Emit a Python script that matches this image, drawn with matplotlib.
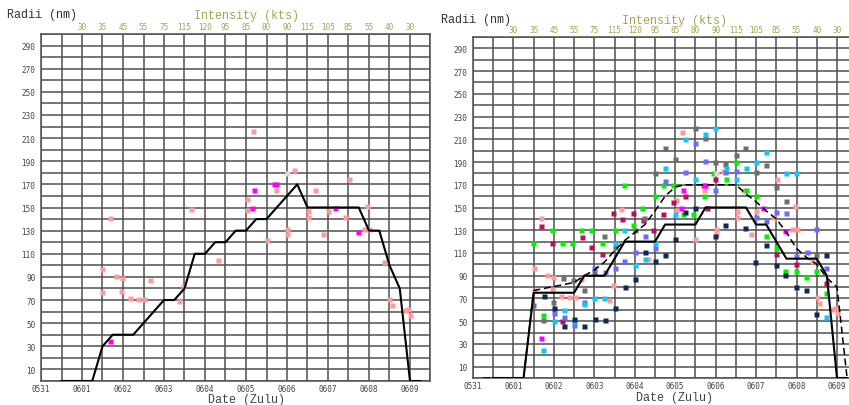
import numpy as np
import matplotlib
matplotlib.use("Agg")
from matplotlib import pyplot as plt

# days after 0531 00Z
date_days = [0, 1, 2, 3, 4, 5, 6, 7, 8, 9]
date_labels = ["0531", "0601", "0602", "0603", "0604", "0605", "0606", "0607", "0608", "0609"]
kts_days = [1.0, 1.5, 2.0, 2.5, 3.0, 3.5, 4.0, 4.5, 5.0, 5.5, 6.0, 6.5, 7.0, 7.5, 8.0, 8.5, 9.0]
kts_labels = [30, 35, 45, 55, 75, 115, 120, 95, 85, 80, 90, 115, 105, 85, 55, 40, 30]
radii_ticks = [10, 30, 50, 70, 90, 110, 130, 150, 170, 190, 210, 230, 250, 270, 290]

# left panel best-track line
left_day = [0.5, 1.25, 1.5, 1.75, 2.25, 2.5, 2.75, 3.0, 3.25, 3.5, 3.75, 4.0, 4.25, 4.5, 4.75,
            5.0, 5.25, 5.5, 5.75, 6.0, 6.25, 6.5, 6.75, 7.0, 7.25, 7.5, 7.75, 8.0, 8.25, 8.5,
            8.75, 9.0, 9.25]
left_val = [0, 0, 30, 40, 40, 50, 60, 70, 70, 80, 110, 110, 120, 120, 130,
            130, 140, 140, 150, 160, 170, 150, 150, 150, 150, 150, 150, 130, 130, 100,
            80, 0, 0]

# right panel lines
solid_day = [0.5, 1.25, 1.5, 2.5, 2.75, 3.25, 3.5, 3.75, 4.5, 4.75, 5.5, 5.75, 6.75, 7.0,
             7.25, 7.75, 8.5, 8.75, 9.0, 9.25]
solid_val = [0, 0, 75, 75, 90, 90, 105, 120, 120, 135, 135, 150, 150, 135,
             135, 105, 105, 90, 0, 0]
dash_day = [0.25, 1.25, 1.5, 2.5, 2.75, 3.0, 3.25, 3.5, 3.75, 4.0, 4.25, 4.5, 4.75, 5.0,
            5.25, 6.5, 6.75, 7.0, 7.25, 7.5, 7.75, 8.0, 8.25, 8.5, 8.75, 9.0, 9.25]
dash_val = [0, 0, 77, 84, 90, 95, 102, 112, 121, 128, 135, 147, 160, 168,
            170, 170, 162, 155, 147, 140, 128, 114, 106, 100, 88, 80, 0]

# obs shared by both panels
pink_day = [1.5, 1.5, 1.68, 1.83, 1.97, 1.95, 2.17, 2.37, 2.51, 2.67, 3.37, 3.46, 3.67, 4.32,
            5.02, 5.02, 5.18, 5.5, 5.72, 6.0, 6.0, 6.17, 6.52, 6.52, 6.68, 6.88, 7.01, 7.42,
            7.51, 7.88, 7.96, 8.0, 8.37, 8.5, 8.55, 8.88, 8.96, 9.0]
pink_val = [97, 77, 141, 91, 89, 78, 72, 71, 71, 87, 69, 82, 149, 105,
            157, 148, 216, 122, 165, 131, 127, 182, 147, 142, 165, 127, 147, 142,
            175, 131, 151, 131, 103, 71, 66, 61, 62, 57]
mag_day = [1.68, 5.14, 5.2, 5.68, 5.73, 7.18, 7.72]
mag_val = [35, 150, 165, 170, 170, 150, 129]
lpink_day = [6.0]
lpink_val = [180]

# right panel only
green_day = [1.49, 1.74, 1.96, 2.21, 2.46, 2.68, 2.93, 3.2, 3.5, 3.74, 3.96, 4.19, 4.5, 4.71,
             4.95, 5.2, 5.45, 5.7, 5.94, 6.25, 6.5, 6.75, 7.0, 7.25, 7.49, 7.72, 7.99, 8.24,
             8.49, 8.74]
green_val = [119, 55, 130, 119, 119, 130, 130, 119, 130, 170, 135, 150, 160, 170,
             170, 144, 144, 160, 180, 175, 190, 165, 160, 125, 114, 94, 94, 89,
             94, 75]
crim_day = [1.68, 1.96, 2.2, 2.7, 2.93, 3.18, 3.45, 3.69, 3.96, 4.2, 4.44, 4.71, 4.95, 5.24,
            5.78, 5.98, 7.49, 7.99, 8.74]
crim_val = [134, 119, 50, 124, 115, 109, 145, 140, 145, 139, 130, 144, 155, 160,
            150, 175, 109, 100, 84]
gray_day = [1.49, 1.74, 1.99, 2.23, 2.48, 2.75, 2.99, 3.25, 3.5, 4.0, 4.24, 4.5, 4.75, 5.0,
            5.49, 5.74, 5.98, 6.23, 6.5, 6.73, 7.0, 7.25, 7.49, 7.74, 8.49]
gray_val = [64, 51, 67, 88, 86, 77, 93, 125, 115, 130, 141, 180, 202, 193,
            220, 211, 190, 188, 196, 202, 181, 187, 168, 156, 108]
navy_day = [1.76, 2.01, 2.26, 2.5, 2.75, 3.02, 3.26, 3.51, 3.76, 4.0, 4.25, 4.5, 4.75, 5.0,
            5.24, 5.49, 5.98, 6.23, 6.73, 6.97, 7.25, 7.49, 7.72, 7.99, 8.23, 8.49, 8.74]
navy_val = [72, 62, 46, 52, 46, 52, 51, 62, 80, 87, 111, 103, 108, 122,
            146, 150, 125, 135, 132, 102, 117, 99, 91, 80, 77, 56, 108]
slate_day = [2.01, 2.26, 2.5, 2.75, 2.98, 3.26, 3.51, 3.73, 4.0, 4.25, 4.5, 4.75, 5.24, 5.49,
             5.74, 5.98, 6.23, 6.5, 7.0, 7.25, 7.49, 7.74, 7.99, 8.25, 8.48, 8.74]
slate_val = [57, 54, 47, 67, 97, 93, 97, 103, 111, 125, 114, 173, 181, 207,
             191, 165, 181, 182, 142, 138, 146, 145, 107, 111, 131, 97]
cyan_day = [1.74, 2.0, 2.25, 2.5, 2.75, 3.0, 3.25, 3.5, 3.74, 4.0, 4.25, 4.5, 4.75, 5.0,
            5.24, 5.49, 5.74, 5.98, 6.25, 6.5, 6.75, 7.0, 7.25, 7.74, 7.99, 8.73]
cyan_val = [25, 50, 60, 50, 65, 70, 70, 119, 130, 99, 105, 119, 185, 144,
            210, 175, 215, 220, 185, 175, 185, 190, 199, 180, 180, 54]

GRID = "#505050"
OLIVE = "#a3a352"
MS = 3.6


def setup(ax):
    ax.set_xlim(0, 9.5)
    ax.set_ylim(0, 300)
    ax.set_xticks(date_days, date_labels)
    ax.set_xticks(np.arange(0, 9.51, 0.5), minor=True)
    ax.set_yticks(radii_ticks)
    ax.set_yticks(np.arange(0, 301, 10), minor=True)
    ax.grid(which="both", color=GRID, lw=1.1)
    ax.set_axisbelow(True)
    ax.tick_params(which="both", length=0, labelsize=5.5, labelcolor="#444444", pad=4)
    ax.tick_params(axis="x", pad=2.5)
    for lab in ax.get_xticklabels() + ax.get_yticklabels():
        lab.set_family("DejaVu Sans Mono")
    for s in ax.spines.values():
        s.set_color(GRID)
        s.set_linewidth(1.1)
    top = ax.secondary_xaxis("top")
    top.set_xticks(kts_days, [str(k) for k in kts_labels])
    top.tick_params(length=0, labelsize=5.5, labelcolor=OLIVE, pad=2)
    for lab in top.get_xticklabels():
        lab.set_family("DejaVu Sans Mono")
    for s in top.spines.values():
        s.set_visible(False)


def dots(ax, d, v, c):
    ax.plot(d, v, "s", ms=MS, color=c, mec="none", zorder=3)


fig = plt.figure(figsize=(8.49, 4.06), dpi=100)

ax1 = fig.add_axes([41 / 849, 24 / 406, 389.5 / 849, 347 / 406])
setup(ax1)
dots(ax1, pink_day, pink_val, "#ff9a9a")
dots(ax1, mag_day, mag_val, "#ff00ff")
dots(ax1, lpink_day, lpink_val, "#ffc8e0")
ax1.plot(left_day, left_val, color="black", lw=1.5, zorder=4)

ax2 = fig.add_axes([473 / 849, 27 / 406, 384.2 / 849, 341 / 406])
setup(ax2)
dots(ax2, pink_day, pink_val, "#ff9a9a")
dots(ax2, green_day, green_val, "#00f000")
dots(ax2, crim_day, crim_val, "#b8105e")
dots(ax2, gray_day, gray_val, "#6e6e6e")
dots(ax2, slate_day, slate_val, "#6b6bff")
dots(ax2, cyan_day, cyan_val, "#10c8f5")
dots(ax2, navy_day, navy_val, "#0d2a55")
dots(ax2, mag_day, mag_val, "#ff00ff")
dots(ax2, lpink_day, lpink_val, "#ffc8e0")
ax2.plot(dash_day, dash_val, color="black", lw=1.1, ls=(0, (4.5, 2.5)), zorder=4)
ax2.plot(solid_day, solid_val, color="black", lw=1.5, zorder=4)

tfont = dict(family="Liberation Mono", fontsize=8.5)
fig.text(7 / 849, 1 - 15 / 406, "Radii (nm)", color="#333333", ha="left", va="center", **tfont)
fig.text(246 / 849, 1 - 16.5 / 406, "Intensity (kts)", color=OLIVE, ha="center", va="center", **tfont)
fig.text(246 / 849, 1 - 400.5 / 406, "Date (Zulu)", color="#444444", ha="center", va="center", **tfont)
fig.text(441 / 849, 1 - 20 / 406, "Radii (nm)", color="#333333", ha="left", va="center", **tfont)
fig.text(675 / 849, 1 - 21 / 406, "Intensity (kts)", color=OLIVE, ha="center", va="center", **tfont)
fig.text(674 / 849, 1 - 398.5 / 406, "Date (Zulu)", color="#444444", ha="center", va="center", **tfont)

fig.savefig("out.png", dpi=100, facecolor="white")
